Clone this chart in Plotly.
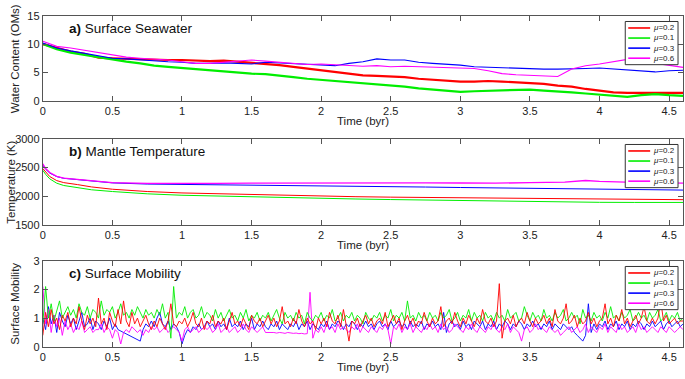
import plotly.graph_objects as go

W, H = 685, 379
FONT = "Liberation Sans, Arial, sans-serif"

LABELS = ["μ=0.2", "μ=0.1", "μ=0.3", "μ=0.6"]
COLORS = ["#FF0000", "#00EE00", "#0000FF", "#FF00FF"]

# ---------------- Panel a: surface seawater (OMs), sampled every 0.1 byr
TIME_A = [round(0.1 * i, 1) for i in range(47)]
WATER_02 = [10.0, 9.3, 8.7, 8.3, 7.6, 7.5, 7.4, 7.3, 7.3, 7.2, 7.2, 7.1, 7.0, 7.1, 6.9, 6.7,
            6.6, 6.3, 6.0, 5.7, 5.4, 5.1, 4.8, 4.5, 4.4, 4.3, 4.2, 3.9, 3.7, 3.6, 3.4, 3.4,
            3.5, 3.4, 3.3, 3.1, 3.0, 2.7, 2.5, 2.1, 1.8, 1.5, 1.4, 1.4, 1.5, 1.4, 1.4]
WATER_01 = [10.0, 9.1, 8.5, 8.1, 7.6, 7.2, 6.9, 6.6, 6.2, 6.0, 5.8, 5.6, 5.4, 5.1, 4.9, 4.8,
            4.7, 4.5, 4.2, 3.9, 3.7, 3.6, 3.4, 3.2, 2.9, 2.7, 2.5, 2.2, 2.0, 1.8, 1.6, 1.7,
            1.8, 1.9, 2.0, 2.0, 1.8, 1.7, 1.5, 1.3, 1.1, 0.9, 0.7, 1.0, 1.2, 1.0, 0.9]
WATER_03 = [10.2, 9.3, 8.8, 8.4, 8.0, 7.5, 7.4, 7.2, 7.0, 6.9, 6.8, 6.6, 6.6, 6.7, 6.6, 6.5,
            6.8, 6.7, 6.5, 6.4, 6.4, 6.2, 6.6, 6.9, 7.4, 7.2, 7.2, 6.8, 6.6, 6.5, 6.3, 6.0,
            5.9, 5.8, 5.8, 5.7, 5.6, 5.6, 5.6, 5.7, 5.8, 5.6, 5.5, 5.3, 5.1, 5.3, 5.4]
WATER_06 = [10.5, 9.6, 9.3, 8.9, 8.4, 8.0, 7.7, 7.5, 7.4, 7.2, 6.9, 6.6, 6.6, 6.8, 7.0, 7.2,
            7.0, 6.8, 6.6, 6.4, 6.5, 6.4, 6.2, 6.1, 6.2, 6.0, 6.1, 6.0, 6.0, 5.9, 5.8, 5.7,
            5.3, 4.8, 4.6, 4.5, 4.4, 4.3, 5.6, 6.2, 6.5, 6.9, 7.3, 7.0, 6.6, 6.3, 5.9]

# ---------------- Panel b: mantle temperature (K)
TIME_B = [0, 0.02, 0.05, 0.1, 0.15, 0.25, 0.35, 0.5, 0.75, 1.0, 1.25, 1.5, 1.75, 2.0,
          2.25, 2.5, 2.75, 3.0, 3.25, 3.5, 3.75, 3.9, 4.0, 4.25, 4.5, 4.6]
TEMP_02 = [2480, 2420, 2340, 2270, 2235, 2200, 2160, 2120, 2080, 2055, 2040, 2025, 2010,
           1995, 1990, 1982, 1978, 1972, 1968, 1965, 1960, 1958, 1955, 1948, 1940, 1938]
TEMP_01 = [2450, 2380, 2300, 2225, 2185, 2145, 2110, 2080, 2040, 2015, 2000, 1985, 1972,
           1958, 1950, 1940, 1932, 1920, 1910, 1900, 1895, 1893, 1892, 1890, 1890, 1890]
TEMP_03 = [2540, 2470, 2400, 2340, 2310, 2285, 2255, 2230, 2210, 2205, 2200, 2195, 2190,
           2180, 2172, 2165, 2158, 2150, 2142, 2138, 2132, 2128, 2122, 2112, 2105, 2105]
TEMP_06 = [2560, 2480, 2410, 2345, 2315, 2290, 2262, 2235, 2222, 2215, 2220, 2225, 2228,
           2233, 2232, 2235, 2230, 2228, 2225, 2235, 2245, 2272, 2255, 2240, 2228, 2225]

# ---------------- Panel c: surface mobility, sampled every 0.02 byr
TIME_C = [round(0.02 * i, 2) for i in range(231)]
MOB_02 = [0.4, 1.2, 0.7, 1.3, 0.8, 1.0, 0.6, 1.1, 0.9, 1.2,
          0.7, 1.0, 0.8, 1.4, 0.9, 0.6, 1.1, 0.8, 1.0, 0.7,
          1.7, 0.8, 1.0, 0.6, 1.2, 0.9, 0.7, 1.3, 0.8, 1.6,
          0.9, 0.7, 1.2, 0.8, 1.0, 0.7, 0.9, 1.1, 0.8, 0.6,
          0.9, 0.7, 1.0, 0.8, 0.6, 0.9, 1.5, 0.8, 0.7, 0.9,
          0.8, 1.0, 0.7, 0.9, 1.2, 0.8, 0.7, 1.0, 0.6, 0.9,
          0.8, 1.1, 0.7, 0.9, 0.8, 1.0, 0.6, 0.9, 1.2, 0.8,
          0.9, 0.7, 1.0, 0.8, 0.6, 1.1, 0.9, 0.8, 1.0, 0.7,
          0.9, 1.1, 0.8, 1.0, 0.7, 0.9, 1.4, 0.8, 0.9, 0.7,
          1.0, 0.8, 1.3, 0.9, 0.7, 1.0, 0.8, 0.9, 0.6, 1.0,
          0.8, 1.0, 0.7, 1.2, 0.9, 0.8, 1.1, 0.7, 1.3, 0.8,
          0.2, 0.9, 0.8, 1.0, 0.7, 0.9, 1.1, 0.8, 1.0, 0.7,
          0.9, 1.0, 0.8, 1.2, 0.7, 0.9, 1.1, 0.8, 1.0, 0.6,
          0.9, 1.1, 0.8, 1.0, 0.7, 0.9, 0.8, 1.2, 0.9, 0.7,
          1.0, 0.8, 0.9, 1.4, 0.7, 0.9, 1.0, 0.8, 1.2, 0.9,
          0.7, 1.0, 0.8, 1.1, 0.9, 0.7, 1.0, 0.8, 1.3, 0.9,
          0.8, 1.0, 0.7, 0.9, 2.2, 0.3, 0.9, 1.0, 0.8, 1.1,
          0.7, 0.9, 1.0, 0.8, 1.2, 0.9, 0.7, 1.0, 0.8, 0.9,
          1.1, 0.8, 1.0, 0.7, 1.3, 0.9, 0.8, 1.0, 1.5, 0.8,
          0.9, 1.1, 0.7, 1.0, 0.8, 0.9, 1.2, 0.8, 1.0, 0.7,
          0.9, 1.0, 1.5, 0.8, 1.0, 0.7, 1.1, 0.9, 1.3, 0.8,
          1.0, 0.7, 0.9, 1.1, 0.8, 1.0, 1.4, 0.9, 0.8, 1.0,
          0.8, 1.0, 1.6, 0.9, 1.1, 0.8, 0.9, 1.0, 0.8, 0.9,
          0.9]
MOB_01 = [0.8, 2.1, 1.0, 1.5, 0.9, 1.3, 1.6, 1.0, 1.2, 1.4,
          1.1, 1.3, 1.0, 1.5, 1.2, 1.1, 1.4, 1.0, 1.3, 1.2,
          1.0, 1.6, 1.1, 1.3, 1.2, 1.4, 1.0, 1.2, 1.5, 1.1,
          1.2, 1.0, 1.3, 1.1, 1.4, 1.2, 1.0, 1.3, 1.1, 1.2,
          1.0, 1.3, 1.1, 1.5, 1.0, 1.2, 0.3, 2.1, 1.0, 1.2,
          1.1, 1.4, 1.0, 1.2, 1.3, 1.0, 1.1, 1.4, 1.0, 1.2,
          1.1, 0.9, 1.3, 1.0, 1.2, 0.9, 1.1, 1.3, 1.0, 1.1,
          0.9, 1.2, 1.0, 1.3, 0.9, 1.1, 1.0, 1.2, 0.9, 1.1,
          1.0, 1.2, 0.9, 1.1, 1.3, 1.0, 0.8, 1.2, 1.0, 1.1,
          0.9, 1.2, 1.0, 1.1, 0.8, 1.2, 1.0, 0.9, 1.1, 1.0,
          1.2, 0.9, 1.1, 1.0, 1.3, 0.9, 1.0, 1.2, 0.9, 1.1,
          1.0, 1.2, 0.9, 1.1, 1.0, 0.8, 1.2, 1.0, 0.9, 1.1,
          1.0, 1.2, 0.9, 1.1, 1.0, 1.3, 0.9, 1.1, 1.0, 1.2,
          0.9, 1.6, 1.0, 1.1, 0.9, 1.2, 1.0, 1.1, 0.9, 1.2,
          1.0, 1.1, 0.9, 1.2, 1.0, 1.1, 1.3, 0.9, 1.0, 1.2,
          0.9, 1.1, 1.0, 1.3, 0.9, 1.2, 1.0, 1.1, 0.9, 1.2,
          1.0, 1.1, 0.9, 1.2, 1.0, 1.1, 0.9, 1.3, 1.0, 1.1,
          1.2, 0.9, 1.0, 1.4, 1.1, 0.9, 1.2, 1.0, 1.1, 0.9,
          1.3, 1.0, 1.1, 0.9, 1.2, 1.0, 1.1, 1.3, 0.9, 1.0,
          1.2, 1.0, 1.1, 0.8, 1.3, 1.0, 1.1, 0.9, 1.2, 1.0,
          1.1, 0.9, 1.2, 1.0, 1.4, 1.0, 1.1, 0.9, 1.2, 1.0,
          1.1, 1.3, 0.9, 1.0, 1.2, 1.0, 1.1, 0.9, 1.2, 1.0,
          1.1, 1.3, 0.9, 1.0, 1.2, 0.9, 1.1, 1.0, 1.2, 0.9,
          1.0]
MOB_03 = [1.0, 0.6, 1.4, 0.8, 1.1, 0.5, 1.2, 0.9, 0.7, 1.1,
          0.8, 1.0, 0.6, 0.9, 1.2, 0.7, 0.8, 1.0, 0.6, 0.9,
          0.8, 0.6, 0.9, 0.7, 1.0, 0.6, 0.8, 0.6, 0.55, 0.5,
          0.45, 0.4, 0.35, 0.3, 0.25, 0.2, 0.6, 0.8, 0.7, 0.9,
          0.7, 1.0, 1.2, 0.8, 0.7, 0.9, 0.6, 0.8, 0.7, 0.5,
          0.1, 0.4, 0.6, 0.5, 0.7, 0.6, 0.8, 0.6, 0.7, 0.9,
          0.7, 0.8, 0.6, 0.9, 0.7, 0.8, 0.6, 1.0, 0.7, 0.8,
          0.7, 0.9, 0.6, 0.8, 0.7, 1.0, 0.6, 0.8, 0.7, 0.9,
          0.7, 0.6, 0.8, 0.7, 0.9, 0.6, 0.8, 0.7, 0.6, 0.8,
          0.7, 0.9, 0.6, 0.8, 0.7, 0.9, 0.6, 0.8, 0.7, 0.6,
          0.8, 0.7, 0.9, 0.6, 0.8, 0.7, 0.9, 0.8, 0.6, 0.8,
          0.7, 0.9, 0.8, 0.6, 0.8, 0.7, 0.9, 0.7, 0.8, 0.6,
          0.8, 0.9, 0.7, 0.8, 0.6, 0.9, 0.7, 0.8, 0.9, 0.7,
          0.8, 0.6, 0.9, 0.7, 0.8, 0.7, 0.9, 0.6, 0.8, 0.7,
          0.9, 0.7, 0.8, 0.6, 1.2, 0.5, 0.8, 0.9, 0.7, 0.8,
          0.6, 0.9, 0.7, 0.8, 0.6, 0.9, 0.8, 0.7, 0.9, 0.6,
          0.8, 0.7, 0.9, 0.6, 0.8, 0.7, 0.9, 0.8, 0.6, 0.8,
          0.7, 0.9, 0.8, 0.6, 0.8, 0.7, 0.9, 0.7, 0.8, 0.6,
          0.8, 0.7, 0.9, 0.6, 0.8, 0.7, 0.6, 0.8, 0.7, 0.6,
          0.7, 0.5, 0.4, 0.3, 0.2, 0.4, 1.5, 0.5, 0.8, 0.6,
          0.8, 0.7, 0.9, 0.6, 0.8, 0.7, 0.9, 0.6, 0.8, 0.7,
          0.9, 0.6, 0.8, 0.7, 0.9, 0.8, 0.6, 0.8, 0.7, 0.9,
          0.7, 0.8, 0.9, 0.6, 0.8, 0.9, 0.7, 0.8, 0.9, 0.7,
          0.8]
MOB_06 = [2.1, 0.8, 1.3, 0.5, 1.1, 0.7, 1.0, 0.4, 0.9, 0.6,
          0.8, 0.5, 0.7, 0.6, 0.9, 0.5, 0.6, 0.7, 0.5, 0.6,
          0.6, 0.8, 0.5, 0.7, 0.6, 0.3, 0.6, 0.5, 0.1, 0.5,
          0.6, 0.5, 0.7, 0.6, 0.5, 0.6, 0.4, 0.6, 0.5, 0.7,
          0.6, 0.7, 0.5, 0.6, 0.7, 0.5, 0.6, 0.7, 0.6, 0.5,
          0.2, 0.6, 0.7, 0.5, 0.6, 0.7, 0.5, 0.6, 0.7, 0.6,
          0.7, 0.5, 0.6, 0.8, 0.5, 0.6, 0.7, 0.5, 0.6, 0.7,
          0.5, 0.6, 0.8, 0.6, 0.5, 0.7, 0.6, 0.5, 0.6, 0.7,
          0.5, 0.5, 0.52, 0.5, 0.48, 0.5, 0.49, 0.47, 0.5, 0.48,
          0.47, 0.48, 0.46, 0.47, 0.45, 0.46, 1.9, 0.3, 0.6, 0.5,
          0.7, 0.5, 0.8, 0.6, 0.7, 0.5, 0.8, 0.6, 0.7, 0.6,
          0.5, 0.7, 0.6, 0.8, 0.5, 0.7, 0.6, 0.5, 0.7, 0.6,
          0.5, 0.7, 0.6, 0.8, 0.6, 0.1, 0.7, 0.6, 0.8, 0.5,
          0.7, 0.6, 0.8, 0.5, 0.7, 0.6, 0.5, 0.7, 0.6, 0.8,
          0.6, 0.7, 0.5, 0.8, 0.6, 0.7, 0.5, 0.6, 0.8, 0.7,
          0.6, 0.5, 0.7, 0.6, 0.8, 0.6, 0.5, 0.7, 0.6, 0.5,
          0.7, 0.6, 0.8, 0.6, 0.5, 0.7, 0.6, 0.8, 0.5, 0.7,
          0.6, 0.5, 0.2, 0.6, 0.7, 0.5, 0.6, 0.8, 0.6, 0.7,
          0.6, 0.5, 0.7, 0.6, 0.5, 0.6, 0.4, 0.5, 0.6, 0.7,
          0.5, 0.6, 0.7, 0.5, 0.6, 0.8, 0.5, 0.7, 0.6, 0.5,
          0.7, 0.6, 0.8, 0.5, 0.7, 0.6, 0.5, 0.8, 0.6, 0.7,
          0.5, 0.6, 0.7, 0.5, 0.8, 0.6, 0.7, 0.5, 0.6, 0.7,
          0.6, 0.5, 0.7, 0.6, 0.5, 0.7, 0.6, 0.5, 0.6, 0.7,
          0.6]

X_TICKS = [0, 0.5, 1, 1.5, 2, 2.5, 3, 3.5, 4, 4.5]
X_TICK_TEXT = ["0", "0.5", "1", "1.5", "2", "2.5", "3", "3.5", "4", "4.5"]
Y_TICKS_A = [0, 5, 10, 15]
Y_TICKS_B = [1500, 2000, 2500, 3000]
Y_TICKS_C = [0, 1, 2, 3]

PANELS = [
    dict(t=TIME_A, ys=[WATER_02, WATER_01, WATER_03, WATER_06], widths=[2.2, 2.2, 1.1, 1.1],
         yrange=[0, 15], yticks=Y_TICKS_A, top=10, bot=98,
         title="<b>a)</b> Surface Seawater", ylabel="Water Content (OMs)", ylx=12),
    dict(t=TIME_B, ys=[TEMP_02, TEMP_01, TEMP_03, TEMP_06], widths=[1, 1, 1, 1.3],
         yrange=[1500, 3000], yticks=Y_TICKS_B, top=137, bot=226,
         title="<b>b)</b> Mantle Temperature", ylabel="Temperature (K)", ylx=8),
    dict(t=TIME_C, ys=[MOB_02, MOB_01, MOB_03, MOB_06], widths=[0.9, 0.9, 0.9, 0.9],
         yrange=[0, 3], yticks=Y_TICKS_C, top=263, bot=352,
         title="<b>c)</b> Surface Mobility", ylabel="Surface Mobility", ylx=12),
]

X0, X1 = 40, 683
AX = "#555555"


def xp(px):
    return px / W


def yp(py):
    return 1 - py / H


fig = go.Figure()
annotations = []
shapes = []
layout = {}

LEG_FONT = 8
LINE_H = 1.3 * LEG_FONT

for k, p in enumerate(PANELS):
    n = "" if k == 0 else str(k + 1)
    order = [2, 3, 1, 0] if k == 2 else [0, 1, 2, 3]
    for i in order:
        fig.add_trace(go.Scatter(
            x=p["t"], y=p["ys"][i], mode="lines", showlegend=False,
            line=dict(color=COLORS[i], width=p["widths"][i]),
            xaxis="x" + n, yaxis="y" + n))
    layout["xaxis" + n] = dict(
        domain=[xp(X0), xp(X1)], range=[0, 4.6], anchor="y" + n,
        tickvals=X_TICKS, ticktext=X_TICK_TEXT, ticks="inside", ticklen=5,
        tickcolor=AX, showline=True, linecolor=AX, linewidth=1, mirror="ticks",
        showgrid=False, zeroline=False, tickfont=dict(size=11, color="#222"))
    layout["yaxis" + n] = dict(
        domain=[yp(p["bot"]), yp(p["top"])], range=p["yrange"], anchor="x" + n,
        tickvals=p["yticks"], ticks="inside", ticklen=5, tickcolor=AX,
        showline=True, linecolor=AX, linewidth=1, mirror="ticks",
        showgrid=False, zeroline=False, tickfont=dict(size=11, color="#222"))
    # panel title
    annotations.append(dict(text=p["title"], x=xp(64), y=yp(p["top"] + 13),
                            xref="paper", yref="paper", xanchor="left", yanchor="middle",
                            showarrow=False, font=dict(size=13.5, color="#111")))
    # y label
    annotations.append(dict(text=p["ylabel"], x=xp(p["ylx"]), y=yp((p["top"] + p["bot"]) / 2),
                            xref="paper", yref="paper", xanchor="center", yanchor="middle",
                            textangle=-90, showarrow=False, font=dict(size=11.5, color="#222")))
    # x label
    annotations.append(dict(text="Time (byr)", x=xp((X0 + X1) / 2), y=yp(p["bot"] + 21),
                            xref="paper", yref="paper", xanchor="center", yanchor="middle",
                            showarrow=False, font=dict(size=11.5, color="#222")))
    # legend box (drawn by hand so it can be as compact as the original)
    lt = p["top"] + 6
    box_h = 4 * LINE_H + 3
    lb = lt + box_h
    mid = (lt + lb) / 2
    shapes.append(dict(type="rect", xref="paper", yref="paper",
                       x0=xp(625), x1=xp(678), y0=yp(lb), y1=yp(lt),
                       line=dict(color="#333", width=1), fillcolor="white"))
    for j in range(4):
        ry = mid + (j - 1.5) * LINE_H
        shapes.append(dict(type="line", xref="paper", yref="paper",
                           x0=xp(628), x1=xp(650), y0=yp(ry), y1=yp(ry),
                           line=dict(color=COLORS[j], width=1.6)))
    legend_text = "<br>".join("<i>μ</i>=" + s.split("=")[1] for s in LABELS)
    annotations.append(dict(text=legend_text, x=xp(651), y=yp(mid), xref="paper", yref="paper",
                            xanchor="left", yanchor="middle", align="left", showarrow=False,
                            font=dict(size=LEG_FONT, color="#222")))

fig.update_layout(
    width=W, height=H, margin=dict(l=0, r=0, t=0, b=0),
    paper_bgcolor="white", plot_bgcolor="white",
    font=dict(family=FONT, size=11, color="#222"),
    annotations=annotations, shapes=shapes, showlegend=False, **layout)

fig.write_html("out.html", config={"displayModeBar": False},
               post_script="document.body.style.margin='0';document.body.style.overflow='hidden';")
